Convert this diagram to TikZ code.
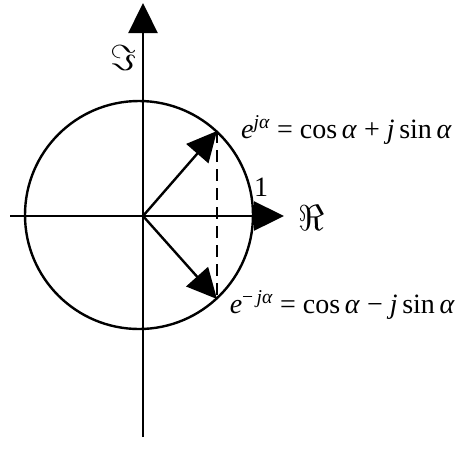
\documentclass[tikz,border=0pt]{standalone}
\usepackage{fontspec}
\setmainfont{Liberation Serif}
\usepackage{tikz}
\usetikzlibrary{arrows.meta}

\begin{document}
\begin{tikzpicture}[
  x=1pt, y=-1pt, line width=2.4pt,
  >={Triangle[length=30pt, width=29pt]},
  lbl/.style={font=\fontsize{28}{32}\selectfont, inner sep=0pt},
  axlbl/.style={font=\fontsize{24}{28}\selectfont, inner sep=0pt, scale=1.45},
]
\useasboundingbox (0,0) rectangle (462,459);

% axes
\coordinate (O) at (143,216);
\coordinate (xl) at (10,216);
\coordinate (xr) at (284,216);
\coordinate (yb) at (143,437);
\coordinate (yt) at (143,3);
\draw[->] (xl) -- (xr);
\draw[->] (yb) -- (yt);

% unit circle
\coordinate (C) at (139,215);
\draw (C) circle[radius=114];

% phasors
\coordinate (A) at (217,131);
\coordinate (B) at (217,299);
\draw[->] (O) -- (A);
\draw[->] (O) -- (B);
\draw[dash pattern=on 12pt off 7pt] (A) -- (B);

% labels
\node[axlbl] (im) at (124,58) {$\Im$};
\node[axlbl] (re) at (312,218) {$\Re$};
\node[lbl] (one) at (261,187) {1};
\node[lbl, anchor=base east] (up) at (453,138)
  {\textit{e}\textsuperscript{\textit{jα}}~= cos\,\textit{α}~+ \textit{j}\,sin\,\textit{α}};
\node[lbl, anchor=base east] (dn) at (456,313)
  {\textit{e}\textsuperscript{−\,\textit{jα}}~= cos\,\textit{α}~− \textit{j}\,sin\,\textit{α}};
\end{tikzpicture}
\end{document}
